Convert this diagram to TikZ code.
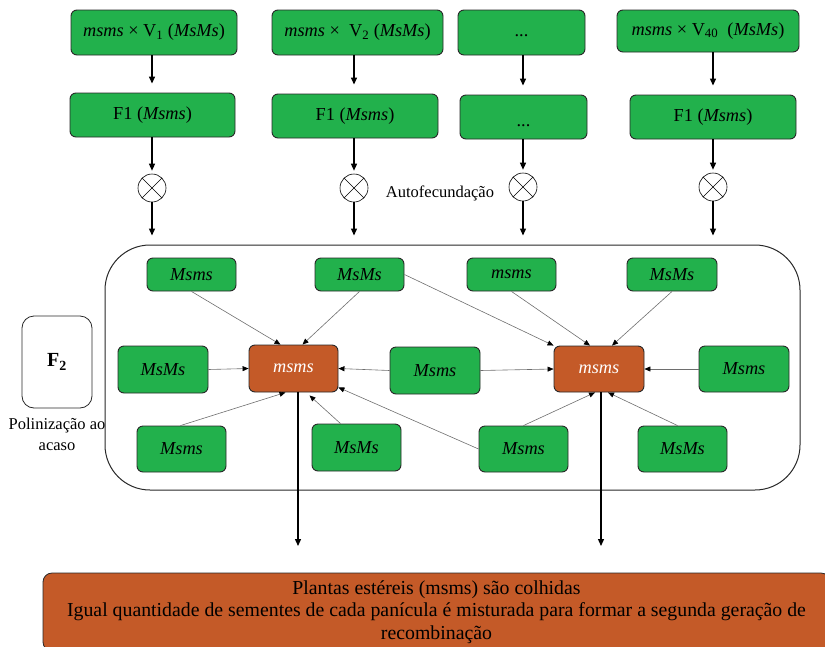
\documentclass[tikz,border=0pt]{standalone}
\usepackage{fontspec}
\setmainfont{Liberation Serif}
\usetikzlibrary{arrows.meta}
\definecolor{boxgreen}{RGB}{34,177,76}
\definecolor{boxorange}{RGB}{196,90,40}
\definecolor{edgegray}{RGB}{40,40,40}
\definecolor{linegray}{RGB}{110,110,110}
\begin{document}
\begin{tikzpicture}[x=1pt,y=-1pt,
  gbox/.style={draw=edgegray, line width=0.9pt, fill=boxgreen, rounded corners=6pt, inner sep=0pt,
    font=\fontsize{18.3}{20}\selectfont},
  inbox/.style={gbox, font=\fontsize{18.3}{20}\selectfont\itshape},
  obox/.style={draw=edgegray, line width=0.9pt, fill=boxorange, rounded corners=6pt, inner sep=0pt,
    font=\fontsize{18.3}{20}\selectfont\itshape, text=white},
  selfing/.style={draw, circle, line width=0.6pt, minimum size=28pt, inner sep=0pt},
  mainarrow/.style={draw=black, line width=1.3pt, -{Triangle[length=7pt,width=6pt]}},
  thinarrow/.style={draw=linegray, line width=0.6pt, -{Triangle[length=6pt,width=5pt,color=black]}}
]
\useasboundingbox (0,0) rectangle (825,646);
\clip (0,0) rectangle (825,646);

% pool of F2 plants
\node[draw=edgegray, line width=1pt, rounded corners=45pt, minimum width=695pt, minimum height=245pt, inner sep=0pt] (pool) at (452.5,367.5) {};

% top row
\node[gbox, minimum width=166pt, minimum height=45pt] (t1) at (154,32.5) {\textit{msms} × V\textsubscript{1} (\textit{MsMs})};
\node[gbox, minimum width=171pt, minimum height=45pt] (t2) at (357.5,32.5) {\textit{msms} ×\ \ V\textsubscript{2} (\textit{MsMs})};
\node[gbox, minimum width=127pt, minimum height=45pt] (t3) at (521.5,32.5) {\raisebox{-4pt}[0pt][0pt]{...}};
\node[gbox, minimum width=182pt, minimum height=42pt] (t4) at (708,31) {\textit{msms} × V\textsubscript{40}\ \ (\textit{MsMs})};

% F1 row
\node[gbox, minimum width=165pt, minimum height=44pt] (f1) at (152.5,115) {F1 (\textit{Msms})};
\node[gbox, minimum width=166pt, minimum height=44pt] (f2) at (355,116) {F1 (\textit{Msms})};
\node[gbox, minimum width=127pt, minimum height=44pt] (f3) at (523.5,117) {\raisebox{-9pt}[0pt][0pt]{...}};
\node[gbox, minimum width=166pt, minimum height=44pt] (f4) at (713,117) {F1 (\textit{Msms})};

% selfing symbols
\node[selfing] (s1) at (152,188) {};
\node[selfing] (s2) at (354,188) {};
\node[selfing] (s3) at (523,187) {};
\node[selfing] (s4) at (713,187) {};
\foreach \s in {s1,s2,s3,s4}{
  \draw[line width=0.6pt] (\s.45) -- (\s.225);
  \draw[line width=0.6pt] (\s.135) -- (\s.315);
}
\node[font=\fontsize{16.5}{20}\selectfont] (auto) at (440,193) {Autofecundação};

% vertical arrows in the top part
\foreach \t/\f/\s in {t1/f1/s1, t2/f2/s2, t3/f3/s3, t4/f4/s4}{
  \draw[mainarrow, shorten >=9pt] (\s |- \t.south) -- (\s |- \f.north);
  \draw[mainarrow, shorten >=3pt] (\s |- \f.south) -- (\s.north);
  \draw[mainarrow, shorten >=9pt] (\s.south) -- (\s |- pool.north);
}

% F2 label
\node[draw=edgegray, line width=0.8pt, rounded corners=12pt, minimum width=70pt, minimum height=92pt, inner sep=0pt,
  font=\fontsize{20}{22}\selectfont\bfseries] (f2box) at (57,362) {F\textsubscript{2}};
\node[align=center, font=\fontsize{16.5}{21}\selectfont] (poli) at (57,434.5) {Polinização ao\\acaso};

% plants in the pool
\node[inbox, minimum width=89pt, minimum height=33pt] (a1) at (191.5,274.5) {Msms};
\node[inbox, minimum width=89pt, minimum height=33pt] (a2) at (359.5,274.5) {MsMs};
\node[inbox, minimum width=90pt, minimum height=47pt] (a3) at (163,369.5) {MsMs};
\node[obox, minimum width=89pt, minimum height=47pt] (o1) at (293.5,368.5) {msms};
\node[inbox, minimum width=90pt, minimum height=47pt] (a4) at (435,370.5) {Msms};
\node[inbox, minimum width=89pt, minimum height=46pt] (a5) at (181.5,449) {Msms};
\node[inbox, minimum width=89pt, minimum height=47pt] (a6) at (356.5,447.5) {MsMs};
\node[inbox, minimum width=89pt, minimum height=33pt] (b1) at (511.5,274.5) {msms};
\node[inbox, minimum width=90pt, minimum height=33pt] (b2) at (672,274.5) {MsMs};
\node[obox, minimum width=90pt, minimum height=46pt] (o2) at (599,369) {msms};
\node[inbox, minimum width=90pt, minimum height=46pt] (b3) at (744,369) {Msms};
\node[inbox, minimum width=89pt, minimum height=46pt] (b4) at (523.5,449) {Msms};
\node[inbox, minimum width=89pt, minimum height=46pt] (b5) at (682.5,449) {MsMs};

% pollen flow to left sterile plant
\draw[thinarrow] (a1.south) -- ([xshift=-13pt]o1.north);
\draw[thinarrow] (a2.south) -- ([xshift=9pt]o1.north);
\draw[thinarrow] (a3.east) -- (o1.west);
\draw[thinarrow] (a4.west) -- (o1.east);
\draw[thinarrow] ([xshift=-1pt]a5.north) -- ([xshift=-8pt]o1.south);
\draw[thinarrow] ([xshift=-16pt]a6.north) -- ([xshift=16pt,yshift=-3pt]o1.south);
\draw[thinarrow] (b4.west) -- ([yshift=5pt]o1.south east);

% pollen flow to right sterile plant
\draw[thinarrow] (a2.east) -- (o2.north west);
\draw[thinarrow] (b1.south) -- ([xshift=-9pt]o2.north);
\draw[thinarrow] (b2.south) -- ([xshift=13pt]o2.north);
\draw[thinarrow] (a4.east) -- (o2.west);
\draw[thinarrow] (b3.west) -- (o2.east);
\draw[thinarrow] (b4.north) -- ([xshift=-4pt]o2.south);
\draw[thinarrow] ([xshift=-5pt]b5.north) -- ([xshift=9pt]o2.south);

% harvest
\coordinate (e1) at (298,546);
\coordinate (e2) at (601,546);
\draw[mainarrow] (o1.south -| e1) -- (e1);
\draw[mainarrow] (o2.south -| e2) -- (e2);

\node[draw=edgegray, line width=0.8pt, fill=boxorange, rounded corners=9pt, minimum width=787pt, minimum height=78pt,
  inner sep=0pt, align=center, font=\fontsize{19.8}{22.3}\selectfont] (harvest) at (436.5,612)
  {Plantas estéreis (msms) são colhidas\\Igual quantidade de sementes de cada panícula é misturada para formar a segunda geração de\\recombinação};
\end{tikzpicture}
\end{document}
